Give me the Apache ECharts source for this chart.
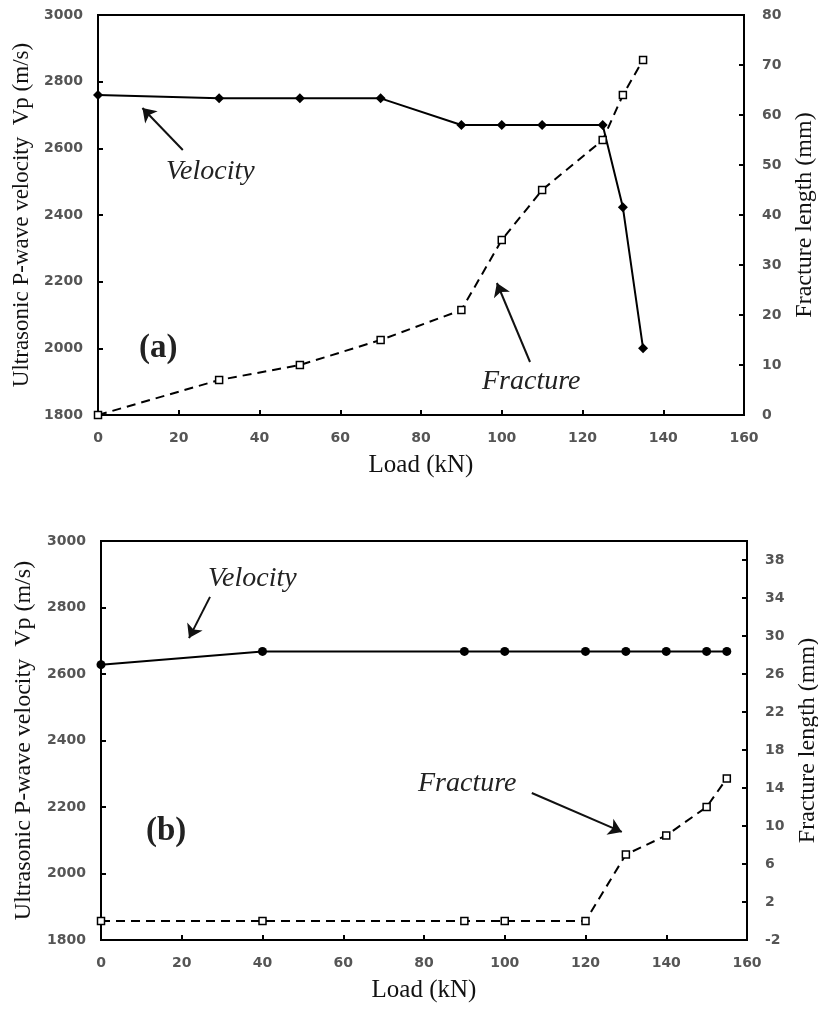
<!DOCTYPE html>
<html>
<head>
<meta charset="utf-8">
<script src="https://cdn.jsdelivr.net/npm/echarts@6/dist/echarts.min.js"></script>
<style>
html,body{margin:0;padding:0;background:#fff;}
#c{width:818px;height:1014px;}
</style>
</head>
<body>
<div id="c"></div>
<script>
// ---- Data (a) ----
var loadA = [0, 30, 50, 70, 90, 100, 110, 125, 130, 135];
var velocityA = [2760, 2750, 2750, 2750, 2670, 2670, 2670, 2670, 2423, 2000];
var fractureA = [0, 7, 10, 15, 21, 35, 45, 55, 64, 71];
// ---- Data (b) ----
var loadVelB = [0, 40, 90, 100, 120, 130, 140, 150, 155];
var velocityB = [2628, 2668, 2668, 2668, 2668, 2668, 2668, 2668, 2668];
var loadFracB = [0, 40, 90, 100, 120, 130, 140, 150, 155];
var fractureB = [0, 0, 0, 0, 0, 7, 9, 12, 15];
// ---- Axis settings ----
var xTicks = {min: 0, max: 160, interval: 20};
var vpTicks = {min: 1800, max: 3000, interval: 200};
var fracTicksA = {min: 0, max: 80, interval: 10};
var fracTicksB = {min: -2, max: 40, interval: 4};

function zip(xs, ys){ return xs.map(function(x,i){ return [x, ys[i]]; }); }

var serif = '"Liberation Serif", "DejaVu Serif", serif';
var sans = '"DejaVu Sans", sans-serif';
var labelStyle = {fontFamily: sans, fontSize: 14, color: '#555', fontWeight: 'bold',
  formatter: function(v){ return String(v); }};
var axisLine = {show: true, onZero: false, lineStyle: {color: '#000', width: 2}};
var axisTick = {show: true, inside: true, length: 5, lineStyle: {color: '#000', width: 2}};

function xAxisFor(grid){
  return {type: 'value', gridIndex: grid, min: xTicks.min, max: xTicks.max, interval: xTicks.interval,
    name: 'Load (kN)', nameLocation: 'middle', nameGap: 38,
    nameTextStyle: {fontFamily: serif, fontSize: 25, color: '#111'},
    axisLine: axisLine, axisTick: axisTick, splitLine: {show: false},
    axisLabel: Object.assign({margin: 16}, labelStyle)};
}
function leftAxisFor(grid, gap, size){
  return {type: 'value', gridIndex: grid, position: 'left', min: vpTicks.min, max: vpTicks.max, interval: vpTicks.interval,
    name: 'Ultrasonic P-wave velocity  Vp (m/s)', nameLocation: 'middle', nameGap: gap,
    nameTextStyle: {fontFamily: serif, fontSize: size, color: '#111'},
    axisLine: axisLine, axisTick: axisTick, splitLine: {show: false},
    axisLabel: Object.assign({margin: 15}, labelStyle)};
}
function rightAxisFor(grid, t, gap){
  return {type: 'value', gridIndex: grid, position: 'right', min: t.min, max: t.max, interval: t.interval,
    name: 'Fracture length (mm)', nameLocation: 'middle', nameGap: gap, nameRotate: 90,
    nameTextStyle: {fontFamily: serif, fontSize: 24, color: '#111'},
    axisLine: axisLine, axisTick: axisTick, splitLine: {show: false},
    axisLabel: Object.assign({margin: 18, showMaxLabel: t.max % t.interval === (t.min % t.interval)}, labelStyle)};
}

function arrowLine(from, to){
  return [{coord: from}, {coord: to}];
}
var arrowStyle = {symbol: ['none', 'arrow'], symbolSize: 13, silent: true, animation: false,
  lineStyle: {color: '#111', width: 2, type: 'solid'}, label: {show: false}};

function note(x, y, text, font){
  return {type: 'text', x: x, y: y, style: {text: text, font: font, fill: '#222', align: 'left', verticalAlign: 'middle'}};
}

var option = {
  animation: false,
  backgroundColor: '#fff',
  grid: [
    {left: 98, top: 15, width: 646, height: 400, show: true, borderColor: '#000', borderWidth: 2,
     backgroundColor: 'transparent', containLabel: false, outerBoundsMode: 'none'},
    {left: 101, top: 541, width: 646, height: 399, show: true, borderColor: '#000', borderWidth: 2,
     backgroundColor: 'transparent', containLabel: false, outerBoundsMode: 'none'}
  ],
  xAxis: [xAxisFor(0), xAxisFor(1)],
  yAxis: [leftAxisFor(0, 58, 23), rightAxisFor(0, fracTicksA, 44), leftAxisFor(1, 59, 24), rightAxisFor(1, fracTicksB, 43)],
  series: [
    {type: 'line', name: 'Velocity (a)', xAxisIndex: 0, yAxisIndex: 0, data: zip(loadA, velocityA),
     symbol: 'diamond', symbolSize: 10, lineStyle: {color: '#000', width: 2}, itemStyle: {color: '#000'},
     markLine: Object.assign({data: [arrowLine([21, 2595], [11, 2721]), arrowLine([107, 1959], [98.8, 2196])]}, arrowStyle)},
    {type: 'line', name: 'Fracture (a)', xAxisIndex: 0, yAxisIndex: 1, data: zip(loadA, fractureA),
     symbol: 'rect', symbolSize: 7, lineStyle: {color: '#000', width: 2, type: [9, 6]},
     itemStyle: {color: '#fff', borderColor: '#000', borderWidth: 1.5}},
    {type: 'line', name: 'Velocity (b)', xAxisIndex: 1, yAxisIndex: 2, data: zip(loadVelB, velocityB),
     symbol: 'circle', symbolSize: 9, lineStyle: {color: '#000', width: 2}, itemStyle: {color: '#000'},
     markLine: Object.assign({data: [arrowLine([27, 2832], [21.8, 2708]), arrowLine([106.7, 2242], [129, 2125])]}, arrowStyle)},
    {type: 'line', name: 'Fracture (b)', xAxisIndex: 1, yAxisIndex: 3, data: zip(loadFracB, fractureB),
     symbol: 'rect', symbolSize: 7, lineStyle: {color: '#000', width: 2, type: [9, 6]},
     itemStyle: {color: '#fff', borderColor: '#000', borderWidth: 1.5}}
  ],
  graphic: [
    note(166, 172, 'Velocity', 'italic 28px ' + serif),
    note(139, 348, '(a)', 'bold 33px ' + serif),
    note(482, 382, 'Fracture', 'italic 28px ' + serif),
    note(208, 579, 'Velocity', 'italic 28px ' + serif),
    note(146, 831, '(b)', 'bold 33px ' + serif),
    note(418, 784, 'Fracture', 'italic 28px ' + serif)
  ]
};

var chart = echarts.init(document.getElementById('c'), null, {renderer: 'canvas'});
chart.setOption(option);
</script>
</body>
</html>
